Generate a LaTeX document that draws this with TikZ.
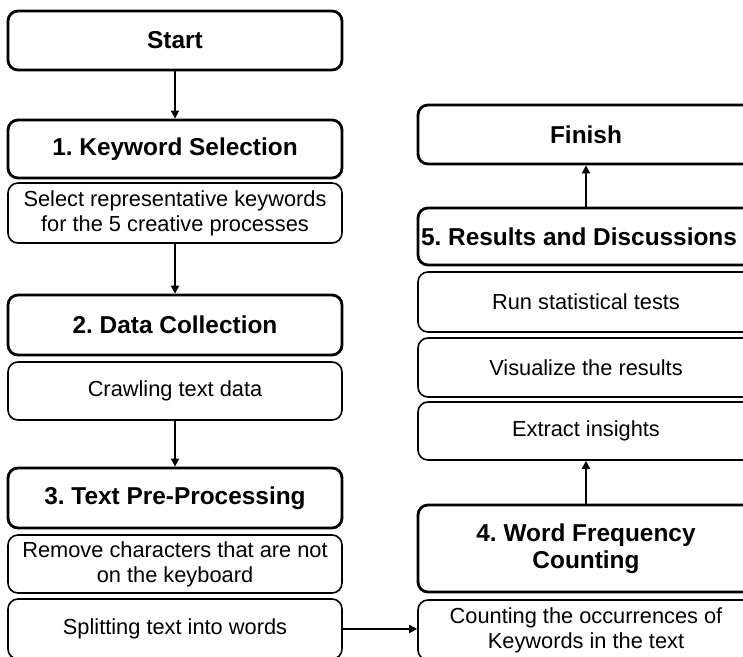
\documentclass[tikz,border=0pt]{standalone}
\usepackage{fontspec}
\setmainfont{Liberation Sans}
\usetikzlibrary{arrows.meta}
\frenchspacing
\begin{document}
\begin{tikzpicture}[x=1pt,y=-1pt,
  box/.style={draw, rounded corners=10pt, line width=1.6pt, minimum width=334pt, inner sep=0pt, align=center, font=\fontsize{21.8}{25}\selectfont},
  titlebox/.style={box, line width=2.8pt, font=\fontsize{24.4}{27}\selectfont\bfseries},
  rcol/.style={minimum width=336pt},
  arr/.style={line width=1.8pt, -{Triangle[length=8pt,width=8pt]}}]
\useasboundingbox (0,0) rectangle (743,656);
\clip (0,0) rectangle (743,656);
% left column
\node[titlebox, minimum height=59pt] (start) at (175,40.5) {Start};
\node[titlebox, minimum height=58pt] (ks) at (175,149) {1. Keyword Selection};
\node[box, minimum height=60pt] (sel) at (175,213) {Select representative keywords\\ for the 5 creative processes};
\node[titlebox, minimum height=60pt] (dc) at (175,325) {2. Data Collection};
\node[box, minimum height=58pt] (crawl) at (175,391) {Crawling text data};
\node[titlebox, minimum height=60pt] (tpp) at (175,498) {3. Text Pre-Processing};
\node[box, minimum height=58pt] (rem) at (175,564) {Remove characters that are not\\ on the keyboard};
\node[box, minimum height=60pt] (split) at (175,629) {Splitting text into words};
% right column
\node[titlebox, rcol, minimum height=59pt] (finish) at (586,134.5) {Finish};
\node[titlebox, rcol, minimum height=57pt] (rd) at (586,236.5) {\makebox[0pt]{\hspace*{-14pt}5. Results and Discussions}};
\node[box, rcol, minimum height=60pt] (run) at (586,302) {Run statistical tests};
\node[box, rcol, minimum height=59pt] (vis) at (586,367.5) {Visualize the results};
\node[box, rcol, minimum height=58pt] (ext) at (586,431) {Extract insights};
\node[titlebox, rcol, minimum height=87pt] (wfc) at (586,548.5) {4. Word Frequency\\ Counting};
\node[box, rcol, minimum height=60pt] (count) at (586,630) {Counting the occurrences of\\ Keywords in the text};
% connectors
\draw[arr] (start) -- (ks);
\draw[arr] (sel) -- (dc);
\draw[arr] (crawl) -- (tpp);
\draw[arr] (split.east) -- (split.east -| count.west);
\draw[arr] (wfc) -- (ext);
\draw[arr] (rd) -- (finish);
\end{tikzpicture}
\end{document}
